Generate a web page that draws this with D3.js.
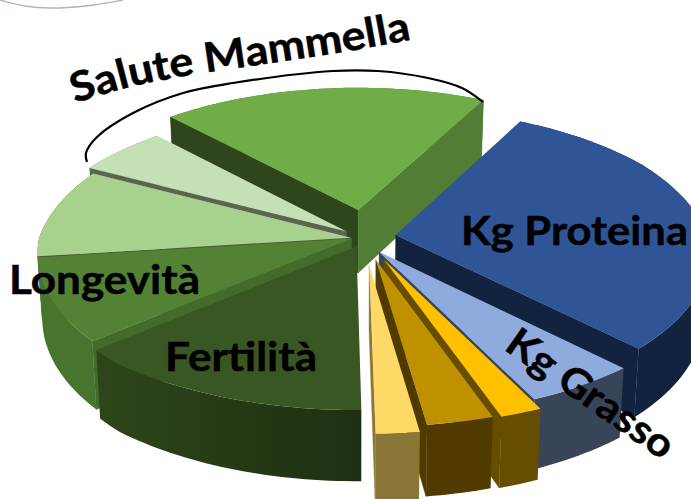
<!DOCTYPE html>
<html><head><meta charset="utf-8">
<script src="https://cdn.jsdelivr.net/npm/d3@7/dist/d3.min.js"></script>
<style>html,body{margin:0;padding:0;background:#fff;overflow:hidden}svg{display:block}text{font-family:Lato,"Open Sans",sans-serif;font-weight:700;fill:#000;stroke:#000;stroke-width:.5px}</style>
</head><body><svg id="c" width="691" height="499"></svg>
<script>
const categories=["Kg Proteina","Kg Grasso","Oro","Oro scuro","Giallo","Fertilità","Longevità","Verde chiaro","Verde pallido","Salute Mammella"];
const values=[29.3,5.2,2.0,3.2,2.1,14.4,8.9,9.4,5.3,20.2];
const explode=[.13,.11,.15,.143,.176,.06,.012,.012,.07,.185];
const lateral=[0,.01,.03,.03,.03,.03,0,0,.03,.035];
const topColors=["#2f5597","#8faadc","#ffc000","#bf9000","#ffd966","#385723","#548235","#a9d18e","#c5e0b4","#70ad47"];
const outerColors=["#12233f","#384559","#664d00","#503a00","#8a7636","#2a3f18","#48752d","#6b8a55","#7a8a70","#527d34"];
const startWallColors=["#12233f","#384559","#664d00","#503a00","#8a7636","#2a3f18","#436b2b","#4d5f3a","#5a6450","#2f451c"];
const endWallColors=["#12233f","#384559","#664d00","#503a00","#8a7636","#2a3f18","#436b2b","#4d5f3a","#5a6450","#527d34"];
const drawOrder=[9,8,7,0,6,1,2,3,4,5];
const labels=["Kg Proteina","Longevità","Fertilità","Kg Grasso","Salute Mammella"];

const W=691,H=499,cx=355,cy=238,Rx=317,Ry=155,persp=.1,depth=64;
const svg=d3.select("#c");
const pie=d3.pie().sort(null).value(d=>d).startAngle(28.7*Math.PI/180).endAngle((360+28.7)*Math.PI/180);
const arcs=pie(values);
const reach=d3.scaleLinear().domain([-1,-.5,0,.7,1]).range([.89,.95,.985,.985,.945]);
function proj(p,low){const s=1/(1-persp*p[1]);const f=low?.985:1;
 return [cx+p[0]*Rx*s*f,cy+p[1]*Ry*s+(low?depth*s:0)];}
const line=d3.line();
const defs=svg.append("defs");
const g5=defs.append("linearGradient").attr("id","darkOuter").attr("gradientUnits","userSpaceOnUse").attr("x1",100).attr("x2",362).attr("y1",0).attr("y2",0);
g5.append("stop").attr("offset",0).attr("stop-color","#2e4519");g5.append("stop").attr("offset",1).attr("stop-color","#1e3011");
outerColors[5]="url(#darkOuter)";

const root=svg.append("g");
drawOrder.forEach(i=>{
 const d=arcs[i],e=explode[i],mid=(d.startAngle+d.endAngle)/2,lat=lateral[i];
 const off=[e*Math.sin(mid)+lat,-e*Math.cos(mid)];
 const n=Math.max(6,Math.ceil((d.endAngle-d.startAngle)*40));
 const as=d3.range(n+1).map(k=>d.startAngle+(d.endAngle-d.startAngle)*k/n);
 const rim=as.map(a=>{const r=reach(-Math.cos(a));return [off[0]+r*Math.sin(a),off[1]-r*Math.cos(a)];});
 const apex=off;
 const g=root.append("g").attr("class","slice").attr("data-name",categories[i]);
 const pa=proj(apex),pm=proj(rim[n>>1]);
 const faces=a=>{const pr=proj(a),ex=pr[0]-pa[0],ey=pr[1]-pa[1],mx=pm[0]-pa[0],my=pm[1]-pa[1];return (ex*my-ey*mx)*ex<0;};
 const wall=(a,c)=>g.append("path").attr("d",line([pa,proj(a),proj(a,true),proj(apex,true)])+"Z").attr("fill",c).attr("stroke",c).attr("stroke-width",.4);
 g.append("path").attr("d",line(rim.map(p=>proj(p)).concat(rim.slice().reverse().map(p=>proj(p,true))))+"Z").attr("fill",outerColors[i]);
 if(faces(rim[0]))wall(rim[0],startWallColors[i]);
 if(faces(rim[n]))wall(rim[n],endWallColors[i]);
 g.append("path").attr("d",line([pa].concat(rim.map(p=>proj(p))))+"Z").attr("fill",topColors[i]);
});

const curve=d3.line().curve(d3.curveCatmullRom.alpha(.5));
svg.append("path").attr("d",curve([[87,162],[86,153],[97,137],[133,113],[183,93],[233,83],[333,71],[378,71],[428,78],[462,88],[483,102]])).attr("fill","none").attr("stroke","#000").attr("stroke-width",2.2);
svg.append("path").attr("d",curve([[0,0],[25,6],[50,8],[85,6],[123,0]])).attr("fill","none").attr("stroke","#aab6c6").attr("stroke-width",1.3);

defs.append("path").attr("id","sm").attr("d",curve([[75,103],[130,87],[185,76],[285,61],[355,50],[425,37]]));
svg.append("text").attr("font-size",41).attr("textLength",343).attr("lengthAdjust","spacingAndGlyphs").append("textPath").attr("href","#sm").text(labels[4]);
const put=(t,x,y,len)=>svg.append("text").attr("x",x).attr("y",y).attr("font-size",40).attr("textLength",len).attr("lengthAdjust","spacingAndGlyphs").text(t);
put(labels[0],461,245,227);
put(labels[1],9,294,191);
put(labels[2],165,371,152);
svg.append("text").attr("transform","translate(503,349) rotate(35)").attr("font-size",40).attr("textLength",195).attr("lengthAdjust","spacingAndGlyphs").text(labels[3]);
</script></body></html>
